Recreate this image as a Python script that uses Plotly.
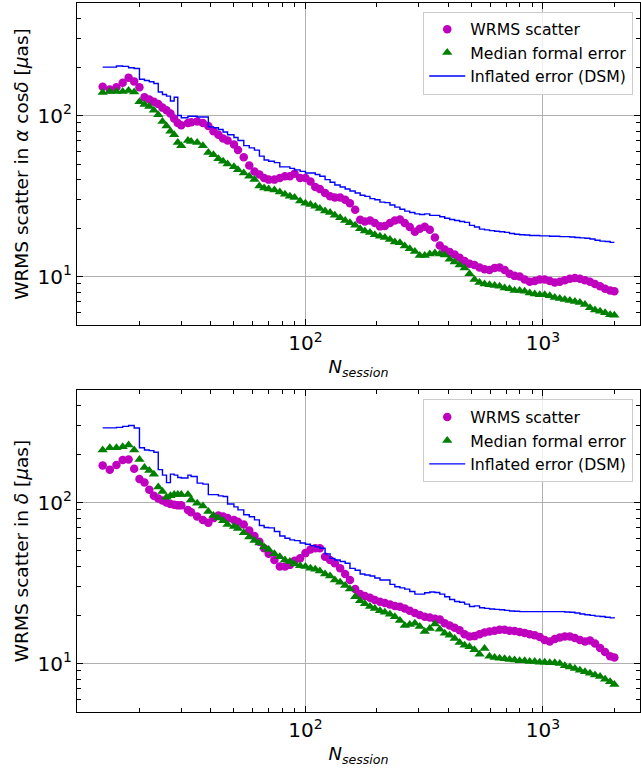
import plotly.graph_objects as go
from plotly.subplots import make_subplots

# number of sessions (shared by all series)
n_session = [14, 15, 16, 17, 18, 19, 20, 21, 22, 23, 24, 25, 26, 27, 28, 29, 30,
             32, 33, 35, 37, 39, 41, 43, 45, 47, 50,
             52, 55, 58, 61, 64, 67, 70, 74, 78, 82,
             86, 90, 95, 100, 105, 110, 115, 121, 127, 133,
             140, 147, 154, 162, 170, 178, 187, 196, 206, 216,
             227, 238, 250, 262, 275, 289, 303, 318, 334, 351,
             368, 386, 405, 425, 446, 468, 491, 515, 541, 568,
             596, 626, 657, 690, 724, 760, 798, 838, 880, 924,
             970, 1018, 1069, 1122, 1178, 1237, 1299, 1364, 1432, 1504,
             1579, 1658, 1741, 1828, 1920, 2000]

# ---- alpha cos(delta) panel ----
ra_wrms = [151, 145, 150, 160, 172, 163, 150, 130, 126, 122, 118, 112, 108, 103, 96, 90, 87,
           90, 91, 92, 90, 86, 80, 76, 72, 70, 66,
           61, 55, 49, 45, 43, 41, 40, 40, 41, 42,
           42, 43.5, 41, 41, 39, 36, 35, 33, 31.5, 31,
           31, 30, 28.5, 26, 22.5, 22, 22.3, 21.5, 20.5, 20.6,
           21.5, 22.3, 22.6, 21.5, 20.3, 19.0, 19.8, 20.4, 19.5, 17.5,
           15.6, 14.7, 14.2, 13.7, 13.1, 12.5, 12.0, 11.8, 11.4, 11.1,
           11.0, 11.3, 11.4, 11.0, 10.4, 10.1, 10.0, 9.6, 9.3, 9.4,
           9.6, 9.6, 9.4, 9.2, 9.3, 9.5, 9.7, 9.8, 9.7, 9.5,
           9.3, 9.0, 8.7, 8.4, 8.2, 8.1]

ra_formal = [139, 141, 141, 141, 143, 140, 122, 117, 114, 108, 101, 92, 86, 80, 76, 68, 65,
             70, 69, 68, 65, 59, 57, 54, 52, 50, 48,
             46, 44, 42, 40, 36.5, 35.5, 35, 34.5, 33.5, 32.5,
             31.5, 31, 29.5, 28.5, 28, 27.3, 26.5, 25.5, 25, 24,
             23.2, 22.3, 21.6, 20.8, 19.8, 19.2, 18.8, 18.2, 17.8, 17.5,
             17, 16.4, 16.2, 15.5, 14.9, 14.3, 13.5, 13.5, 13.8, 14,
             13.8, 13.6, 12.8, 12.3, 11.8, 11.3, 10.4, 9.6, 9.2, 9.0,
             8.9, 8.8, 8.7, 8.5, 8.4, 8.2, 8.2, 8.1, 7.9, 7.8,
             7.7, 7.7, 7.6, 7.4, 7.3, 7.2, 7.1, 7.0, 6.9, 6.7,
             6.4, 6.2, 6.1, 5.95, 5.8, 5.75]

ra_dsm = [200, 200, 203, 202, 198, 196, 168, 165, 162, 158, 140, 135, 132, 123, 130, 100, 97,
          99, 99, 98, 98, 85, 84, 82, 79, 76, 73,
          70, 65, 63, 61, 56, 53, 52, 51, 48, 48,
          47, 46, 45, 44, 44, 43, 42, 40, 38.5, 37,
          36, 35, 34, 33, 32, 31.5, 30.5, 30, 29, 28.8,
          27.8, 27, 26.2, 25.5, 25, 24.5, 24.3, 24.5, 24, 24,
          23.5, 23, 22.6, 22.3, 22, 21.7, 20.8, 20.3, 19.7, 19.5,
          19.3, 19.1, 19, 18.8, 18.5, 18.3, 18.2, 18.1, 18, 18,
          17.9, 17.9, 17.8, 17.8, 17.7, 17.7, 17.6, 17.5, 17.4, 17.3,
          17.1, 16.8, 16.6, 16.5, 16.3, 16.3]

# ---- delta panel ----
de_wrms = [170, 160, 171, 184, 185, 162, 140, 133, 120, 110, 106, 103, 100, 98, 97, 96, 96,
           90, 87, 82, 78, 75, 80, 83, 82, 80, 78,
           76, 73, 67, 62, 57, 52, 48, 44, 40, 40,
           41, 43.5, 45, 48.5, 51, 52, 52, 46, 44, 42,
           39, 36, 33, 29, 27, 26.3, 25.6, 24.8, 24.2, 23.8,
           23.3, 22.8, 22.5, 22.0, 21.3, 20.6, 20.0, 19.5, 19.3, 19.0,
           18.8, 17.8, 17.2, 16.7, 16.1, 15.2, 14.7, 14.8, 15.2, 15.6,
           15.8, 16.0, 16.2, 16.2, 16.0, 15.9, 15.7, 15.5, 15.2, 15.0,
           14.6, 14.0, 13.7, 14.2, 14.5, 14.7, 14.7, 14.4, 14.0, 13.7,
           13.9, 13.3, 12.5, 11.8, 11.1, 10.9]

de_formal = [212, 219, 219, 222, 228, 212, 185, 165, 158, 150, 125, 117, 108, 110, 112, 112, 112,
             112, 104, 99, 95, 88, 83, 80, 77, 73, 71,
             69, 65, 61, 58, 56, 53, 51, 48, 46, 44,
             43, 41.5, 40.5, 40, 39, 38.5, 37.5, 36, 35, 33,
             32, 30.5, 29, 26, 24.5, 23.5, 22.6, 22, 21.3, 20.8,
             20.2, 19.5, 18.5, 17.2, 17.5, 17.8, 17.0, 15.8, 16.5, 17.6,
             16.3, 15.4, 15.0, 14.3, 13.5, 13.0, 12.7, 12.2, 11.4, 12.4,
             11.1, 10.9, 10.8, 10.7, 10.6, 10.5, 10.4, 10.4, 10.3, 10.3,
             10.2, 10.2, 10.1, 10.1, 10.0, 9.7, 9.5, 9.3, 9.1, 8.9,
             8.7, 8.5, 8.3, 8.0, 7.7, 7.4]

de_dsm = [291, 291, 293, 297, 301, 290, 219, 212, 210, 205, 160, 148, 133, 150, 148, 143, 142,
          148, 145, 132, 130, 112, 112, 110, 109, 98, 94,
          90, 84, 81.5, 78, 72, 70, 69.6, 66, 62, 60,
          58.6, 58, 56, 55, 54, 53, 52, 48, 45, 44,
          43, 42, 39, 38, 36, 35.5, 35, 34, 33, 33,
          31, 30, 29.5, 29, 28, 27, 27, 27.5, 27.8, 27.6,
          27, 26, 25, 24.3, 24, 23.4, 22.6, 22.8, 22.2, 22,
          21.8, 21.7, 21.6, 21.4, 21.2, 21.1, 21.0, 21.0, 21.0, 21.0,
          21.0, 21.0, 21.0, 21.0, 21.0, 20.9, 20.8, 20.6, 20.3, 20.1,
          19.9, 19.7, 19.6, 19.4, 19.2, 19.1]

y_titles = ["WRMS scatter in <i>α</i> cos<i>δ</i> [<i>μ</i>as]",
            "WRMS scatter in <i>δ</i> [<i>μ</i>as]"]

MAGENTA = "#bf00bf"
GREEN = "#008000"
BLUE = "#0000ff"

fig = make_subplots(rows=2, cols=1)

panels = [(ra_wrms, ra_formal, ra_dsm, "legend"),
          (de_wrms, de_formal, de_dsm, "legend2")]

for row, (wrms, formal, dsm, leg) in enumerate(panels, start=1):
    fig.add_trace(go.Scatter(
        x=n_session, y=wrms, mode="markers", name="WRMS scatter",
        marker=dict(color=MAGENTA, size=8.5, symbol="circle"),
        legend=leg), row=row, col=1)
    fig.add_trace(go.Scatter(
        x=n_session, y=formal, mode="markers", name="Median formal error",
        marker=dict(color=GREEN, size=9, symbol="triangle-up"),
        legend=leg), row=row, col=1)
    fig.add_trace(go.Scatter(
        x=n_session, y=dsm, mode="lines", name="Inflated error (DSM)",
        line=dict(color=BLUE, width=1.4, shape="hv"),
        legend=leg), row=row, col=1)

minor_x = [20, 30, 40, 50, 60, 70, 80, 90, 200, 300, 400, 500, 600, 700, 800, 900, 2000]
minor_y = [6, 7, 8, 9, 20, 30, 40, 50, 60, 70, 80, 90, 200, 300, 400]

axis_common = dict(
    type="log", showline=True, linecolor="black", linewidth=1.2, mirror="allticks",
    ticks="inside", ticklen=6, tickwidth=1, tickcolor="black",
    showgrid=True, gridcolor="#b0b0b0", gridwidth=1, zeroline=False,
    tickfont=dict(size=20, color="black"), automargin=False,
)

# plot area: 3..325 px (top) and 390..712 px (bottom) in a 709 px tall region
y_domains = [[0.5458, 1.0], [0.0, 0.4542]]

for row in (1, 2):
    fig.update_xaxes(
        range=[1.038, 3.409], tickmode="array", tickvals=[100, 1000],
        ticktext=["10<sup>2</sup>", "10<sup>3</sup>"],
        minor=dict(tickmode="array", tickvals=minor_x, ticks="inside", ticklen=3.5,
                   tickcolor="black", showgrid=False),
        title=dict(text="<i>N<sub>session</sub></i>", font=dict(size=18, color="black"),
                   standoff=6),
        row=row, col=1, **axis_common)
    fig.update_yaxes(
        domain=y_domains[row - 1],
        range=[0.699, 2.699], tickmode="array", tickvals=[10, 100],
        ticktext=["10<sup>1</sup>", "10<sup>2</sup>"],
        minor=dict(tickmode="array", tickvals=minor_y, ticks="inside", ticklen=3.5,
                   tickcolor="black", showgrid=False),
        title=dict(text=y_titles[row - 1], font=dict(size=18.5, color="black"),
                   standoff=4),
        row=row, col=1, **axis_common)

legend_style = dict(
    xanchor="right", yanchor="top", x=0.988,
    bgcolor="rgba(255,255,255,0.8)", bordercolor="#cccccc", borderwidth=1,
    font=dict(size=15.7, color="black"), tracegroupgap=0, itemwidth=36,
)

fig.update_layout(
    width=641, height=769,
    margin=dict(l=77, r=1, t=3, b=57),
    paper_bgcolor="white", plot_bgcolor="white",
    font=dict(family="DejaVu Sans", color="black"),
    legend=dict(y=0.988, **legend_style),
    legend2=dict(y=0.441, **legend_style),
    showlegend=True,
)

# drop the browser's default page margin so the figure sits at the window origin
fig.write_html("out.html", config={"displayModeBar": False},
               post_script="document.body.style.margin='0';")
